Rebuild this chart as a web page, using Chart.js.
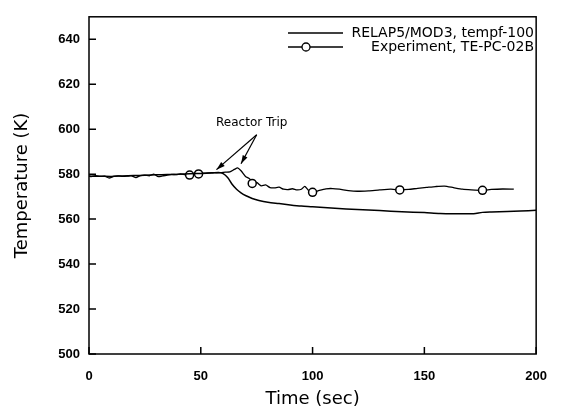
<!DOCTYPE html>
<html>
<head>
<meta charset="utf-8">
<script src="https://cdn.jsdelivr.net/npm/chart.js@4.4.0/dist/chart.umd.min.js"></script>
<style>
    html, body { margin: 0; padding: 0; background: #fff; }
    #wrap { width: 562px; height: 412px; }
</style>
</head>
<body>
<div id="wrap"><canvas id="chart" width="562" height="412"></canvas></div>
<script>
// Axis ticks
const xTicks = [0, 50, 100, 150, 200];
const yTicks = [500, 520, 540, 560, 580, 600, 620, 640];

// RELAP5/MOD3 calculation
const relTime = [0, 5, 10, 15, 20, 25, 30, 35, 40, 45, 50, 55, 58, 60, 62, 64, 66, 68, 70, 73,
    76, 80, 85, 90, 95, 100, 110, 120, 130, 140, 150, 157, 165, 172, 176, 180, 187, 193, 200];
const relTemp = [579.1, 579.1, 579.0, 579.2, 579.4, 579.5, 579.7, 579.8, 580.0, 580.2,
    580.3, 580.5, 580.7, 580.2, 578.5, 575.5, 573.3, 571.7, 570.5, 569.2,
    568.3, 567.5, 566.9, 566.3, 565.8, 565.5, 564.8, 564.3, 563.8, 563.3,
    562.9, 562.5, 562.4, 562.4, 563.0, 563.2, 563.4, 563.6, 563.9];

// Experiment TE-PC-02B
const expTime = [0, 1, 3, 5, 7, 9, 11, 13, 15, 17, 19, 21, 23, 25, 27, 29, 31, 33, 35, 37,
    39, 41, 43, 45, 47, 49, 51, 53, 55, 57, 59, 61, 63, 65, 66.5, 68, 70, 72, 73, 75,
    77, 79, 81, 83, 85, 87, 89, 91, 93, 95, 96.5, 98, 100, 103, 106, 109, 112, 116, 120, 125,
    130, 135, 139, 143, 147, 151, 155, 159, 163, 167, 171, 176, 180, 185, 190];
const expTemp = [579.2, 578.9, 579.3, 579.0, 579.1, 578.3, 579.0, 579.2, 579.0, 579.1,
    579.3, 578.5, 579.4, 579.6, 579.3, 580.0, 578.9, 579.2, 579.6, 579.9,
    579.8, 580.1, 579.7, 579.6, 580.3, 580.1, 580.4, 580.6, 580.7, 580.6,
    580.7, 580.9, 581.0, 582.1, 582.8, 581.5, 579.0, 577.8, 575.9, 576.3,
    574.8, 575.2, 574.0, 573.9, 574.2, 573.3, 573.1, 573.5, 573.0, 573.3,
    574.6, 573.0, 571.9, 572.8, 573.5, 573.6, 573.3, 572.7, 572.4, 572.6,
    573.0, 573.3, 573.0, 573.2, 573.7, 574.1, 574.5, 574.7, 574.0, 573.3,
    573.0, 572.8, 573.2, 573.4, 573.3];
const markerTimes = [45, 49, 73, 100, 139, 176];

// Annotation: label position and arrow tips (data units)
const tripLabel = { x: 72.8, y: 603 };
const tripFrom = { x: 75, y: 597.5 };
const tripTips = [{ x: 57, y: 582 }, { x: 68, y: 584.6 }];

const relLabel = 'RELAP5/MOD3, tempf-100';
const expLabel = 'Experiment, TE-PC-02B';

function toPoints(xs, ys) {
    return xs.map((x, i) => ({ x: x, y: ys[i] }));
}

function arrow(ctx, x1, y1, x2, y2) {
    const ang = Math.atan2(y2 - y1, x2 - x1);
    ctx.beginPath();
    ctx.moveTo(x1, y1);
    ctx.lineTo(x2, y2);
    ctx.stroke();
    ctx.beginPath();
    ctx.moveTo(x2, y2);
    ctx.lineTo(x2 - 9 * Math.cos(ang - 0.3), y2 - 9 * Math.sin(ang - 0.3));
    ctx.lineTo(x2 - 9 * Math.cos(ang + 0.3), y2 - 9 * Math.sin(ang + 0.3));
    ctx.closePath();
    ctx.fill();
}

// frame, inward ticks, annotation and legend
const decorations = {
    id: 'decorations',
    afterDraw(chart) {
        const ctx = chart.ctx;
        const a = chart.chartArea;
        const xs = chart.scales.x, ys = chart.scales.y;
        ctx.save();
        ctx.strokeStyle = '#000';
        ctx.fillStyle = '#000';
        ctx.lineWidth = 1.5;
        ctx.strokeRect(a.left, a.top, a.right - a.left, a.bottom - a.top);

        ctx.beginPath();
        yTicks.forEach(v => {
            const py = ys.getPixelForValue(v);
            ctx.moveTo(a.left, py);
            ctx.lineTo(a.left + 7, py);
        });
        xTicks.forEach(v => {
            const px = xs.getPixelForValue(v);
            ctx.moveTo(px, a.bottom);
            ctx.lineTo(px, a.bottom - 7);
        });
        ctx.stroke();

        // Reactor Trip note
        ctx.font = '12px "DejaVu Sans"';
        ctx.textAlign = 'center';
        ctx.textBaseline = 'middle';
        ctx.fillText('Reactor Trip', xs.getPixelForValue(tripLabel.x), ys.getPixelForValue(tripLabel.y));
        ctx.lineWidth = 1.2;
        const fx = xs.getPixelForValue(tripFrom.x), fy = ys.getPixelForValue(tripFrom.y);
        tripTips.forEach(t => {
            arrow(ctx, fx, fy, xs.getPixelForValue(t.x), ys.getPixelForValue(t.y));
        });

        // legend
        ctx.lineWidth = 1.3;
        ctx.font = '14px "DejaVu Sans"';
        ctx.textAlign = 'right';
        const rows = [{ text: relLabel, y: 33, marker: false }, { text: expLabel, y: 47, marker: true }];
        rows.forEach(r => {
            ctx.beginPath();
            ctx.moveTo(288, r.y);
            ctx.lineTo(343, r.y);
            ctx.stroke();
            if (r.marker) {
                ctx.beginPath();
                ctx.arc(306, r.y, 4, 0, Math.PI * 2);
                ctx.fillStyle = '#fff';
                ctx.fill();
                ctx.stroke();
                ctx.fillStyle = '#000';
            }
            ctx.fillText(r.text, 534, r.y);
        });
        ctx.restore();
    }
};

const ctx = document.getElementById('chart').getContext('2d');
new Chart(ctx, {
    type: 'line',
    data: {
        datasets: [
            {
                label: relLabel,
                data: toPoints(relTime, relTemp),
                borderColor: '#000',
                borderWidth: 1.5,
                pointRadius: 0,
                tension: 0.3,
                fill: false
            },
            {
                label: expLabel,
                data: toPoints(expTime, expTemp),
                borderColor: '#000',
                borderWidth: 1.3,
                tension: 0.2,
                fill: false,
                pointRadius: c => (c.raw && markerTimes.includes(c.raw.x)) ? 4 : 0,
                pointBackgroundColor: '#fff',
                pointBorderColor: '#000',
                pointBorderWidth: 1.5
            }
        ]
    },
    options: {
        responsive: false,
        animation: false,
        layout: { padding: { top: 11, right: 14, left: 0, bottom: 0 } },
        plugins: {
            legend: { display: false },
            tooltip: { enabled: false }
        },
        scales: {
            x: {
                type: 'linear',
                min: 0,
                max: 200,
                afterBuildTicks: s => { s.ticks = xTicks.map(v => ({ value: v })); },
                afterFit: s => { s.height = 58; },
                grid: { display: false, drawTicks: false },
                border: { display: false },
                ticks: {
                    padding: 15,
                    color: '#000',
                    maxRotation: 0,
                    font: { family: 'Liberation Sans', size: 13, weight: 'bold' }
                },
                title: {
                    display: true,
                    text: 'Time (sec)',
                    color: '#000',
                    padding: { top: 0, bottom: 2 },
                    font: { family: 'DejaVu Sans', size: 18 }
                }
            },
            y: {
                min: 500,
                max: 650,
                afterBuildTicks: s => { s.ticks = yTicks.map(v => ({ value: v })); },
                afterFit: s => { s.width = 89; },
                grid: { display: false, drawTicks: false },
                border: { display: false },
                ticks: {
                    padding: 9,
                    color: '#000',
                    font: { family: 'Liberation Sans', size: 13, weight: 'bold' }
                },
                title: {
                    display: true,
                    text: 'Temperature (K)',
                    color: '#000',
                    padding: { top: 12, bottom: 0 },
                    font: { family: 'DejaVu Sans', size: 18 }
                }
            }
        }
    },
    plugins: [decorations]
});
</script>
</body>
</html>
